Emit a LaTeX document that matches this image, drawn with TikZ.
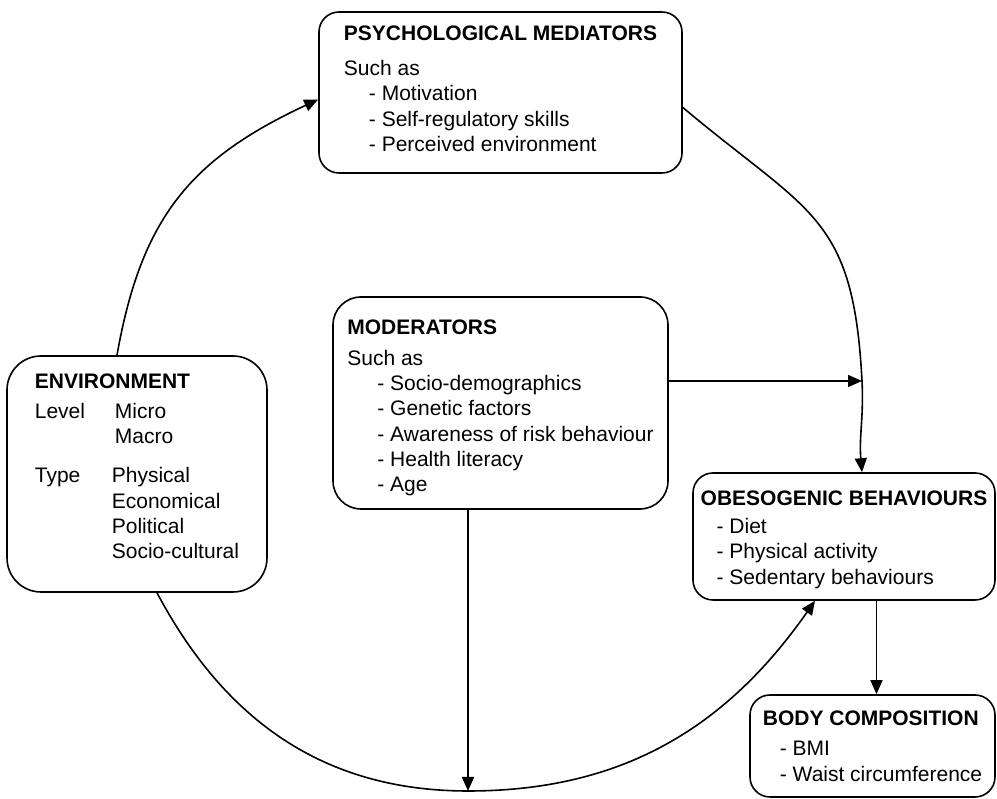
\documentclass[tikz,border=0pt]{standalone}
\usepackage{fontspec}
\setmainfont{Liberation Sans}
\usetikzlibrary{arrows.meta}

\begin{document}
\begin{tikzpicture}[
  x=1pt, y=1pt,
  every node/.style={font=\fontsize{21}{25.3}\selectfont, align=left},
  box/.style={draw, line width=1.6pt, inner sep=0pt},
  arrow/.style={line width=1.6pt, -{Triangle[length=14pt, width=12pt]}}
]
\useasboundingbox (0,0) rectangle (997,799);

\node[box, rounded corners=20pt, minimum width=363pt, minimum height=161pt] (psych) at (500.5,706.5)
  {\textbf{PSYCHOLOGICAL MEDIATORS}\\[10pt]
   Such as\\
   \hspace*{25pt}- Motivation\\
   \hspace*{25pt}- Self-regulatory skills\\
   \hspace*{25pt}- Perceived environment\rule[-8pt]{0pt}{8pt}};
\node[box, rounded corners=28pt, minimum width=335pt, minimum height=212pt] (moder) at (500.5,396)
  {\rule{0pt}{25pt}\textbf{MODERATORS}\\[5pt]
   Such as\\
   \hspace*{30pt}- Socio-demographics\\
   \hspace*{30pt}- Genetic factors\\
   \hspace*{30pt}- Awareness of risk behaviour\\
   \hspace*{30pt}- Health literacy\\
   \hspace*{30pt}- Age};
\node[box, rounded corners=34pt, minimum width=260pt, minimum height=236pt] (env) at (137,325)
  {\textbf{ENVIRONMENT}\\[4pt]
   \makebox[80pt][l]{Level}Micro\\
   \hspace*{80pt}Macro\\[14pt]
   \makebox[77pt][l]{Type}Physical\\
   \hspace*{77pt}Economical\\
   \hspace*{77pt}Political\\
   \hspace*{77pt}Socio-cultural\rule[-15pt]{0pt}{15pt}};
\node[box, rounded corners=20pt, minimum width=302pt, minimum height=127pt] (obeso) at (844,262.5)
  {\rule{0pt}{21pt}\textbf{OBESOGENIC BEHAVIOURS}\\[2.5pt]
   \hspace*{16pt}- Diet\\
   \hspace*{16pt}- Physical activity\\
   \hspace*{16pt}- Sedentary behaviours};
\node[box, rounded corners=20pt, minimum width=245pt, minimum height=102pt] (body) at (872.5,53)
  {\textbf{BODY COMPOSITION}\\[5pt]
   \hspace*{17pt}- BMI\\
   \hspace*{17pt}- Waist circumference};

\coordinate (modhit) at (862,418);
\coordinate (low) at (468,8);

\draw[arrow] ([xshift=-20pt]env.north) to[out=80, in=205, looseness=1.1] ([yshift=-7pt]psych.west);
\draw[arrow] ([yshift=-15pt]psych.east) to[out=-40, in=93, looseness=1.3] (modhit) to[out=-87, in=95] ([xshift=18pt]obeso.north);
\draw[arrow] ([yshift=22pt]moder.east) -- (modhit);
\draw[arrow] ([xshift=20pt]env.south) to[out=-62, in=180] (low) to[out=0, in=235] ([xshift=-29pt]obeso.south);
\draw[arrow] (moder.south -| low) -- (low);
\draw[arrow] ([xshift=4pt]body.north |- obeso.south) -- ([xshift=4pt]body.north);
\end{tikzpicture}
\end{document}
